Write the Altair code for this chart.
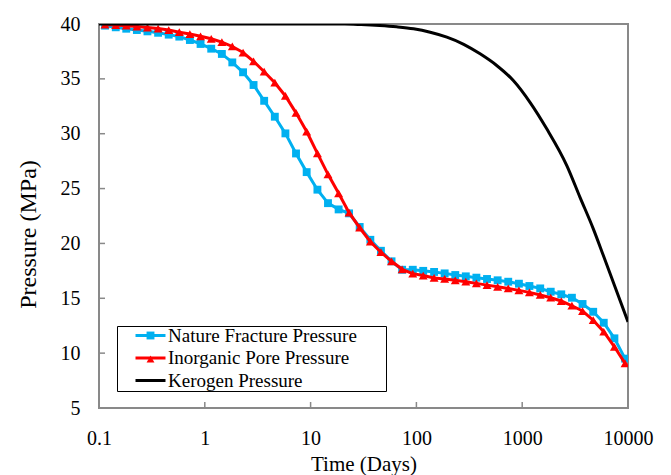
import altair as alt
import pandas as pd

# ---------------- data ----------------
SERIES = ["Nature Fracture Pressure", "Inorganic Pore Pressure", "Kerogen Pressure"]
COLORS = ["#00B0F0", "#FF0000", "#000000"]

times = [0.114, 0.144, 0.181, 0.228, 0.287, 0.362, 0.456, 0.574, 0.723, 0.912,
         1.15, 1.45, 1.82, 2.30, 2.89, 3.64, 4.59, 5.78, 7.28, 9.18,
         11.6, 14.6, 18.4, 23.1, 29.1, 36.7, 46.2, 58.2, 73.3, 92.4,
         116, 147, 185, 233, 293, 369, 465, 586, 738, 931,
         1170, 1480, 1860, 2340, 2950, 3720, 4690, 5900, 7440, 9380]

fracture = [39.85, 39.7, 39.57, 39.45, 39.33, 39.2, 39.03, 38.85, 38.54, 38.18,
            37.75, 37.27, 36.5, 35.6, 34.44, 33.0, 31.55, 30.03, 28.2, 26.5,
            24.9, 23.67, 23.1, 22.74, 21.5, 20.33, 19.33, 18.37, 17.6, 17.6,
            17.5, 17.4, 17.27, 17.12, 17.0, 16.88, 16.76, 16.64, 16.51, 16.33,
            16.12, 15.9, 15.6, 15.36, 15.05, 14.48, 13.77, 12.77, 11.35, 9.5]

inorganic = [39.95, 39.9, 39.85, 39.77, 39.68, 39.58, 39.45, 39.25, 39.08, 38.88,
             38.65, 38.35, 37.95, 37.4, 36.6, 35.65, 34.65, 33.44, 31.9, 30.2,
             28.2, 26.3, 24.57, 22.8, 21.43, 20.16, 19.2, 18.37, 17.64, 17.25,
             17.07, 16.85, 16.76, 16.64, 16.51, 16.36, 16.2, 16.05, 15.9, 15.72,
             15.54, 15.3, 15.05, 14.75, 14.32, 13.84, 13.0, 11.95, 10.58, 9.07]

kerogen_times = [0.1, 1, 10, 21, 30, 45, 65, 94, 135, 194, 280, 400, 574, 824,
                 1190, 1700, 2640, 3520, 4700, 5850, 7500, 10000]
kerogen = [40.0, 40.0, 40.0, 40.0, 39.95, 39.86, 39.74, 39.56, 39.25, 38.8, 38.15,
           37.28, 36.22, 34.85, 32.84, 30.47, 27.1, 24.2, 21.33, 18.9, 16.1, 12.85]

x_ticks = [0.1, 1, 10, 100, 1000, 10000]
x_inner_ticks = [1, 10, 100, 1000]
y_ticks = [5, 10, 15, 20, 25, 30, 35, 40]
y_inner_ticks = [10, 15, 20, 25, 30, 35]

df_frac = pd.DataFrame({"time": times, "pressure": fracture, "series": SERIES[0]})
df_inorg = pd.DataFrame({"time": times, "pressure": inorganic, "series": SERIES[1]})
df_ker = pd.DataFrame({"time": kerogen_times, "pressure": kerogen, "series": SERIES[2]})
df_xt = pd.DataFrame({"time": x_inner_ticks})
df_yt = pd.DataFrame({"pressure": y_inner_ticks})

# ---------------- layout ----------------
W, H = 529, 384
FONT = "Liberation Serif"
GRAY = "#898989"
NB = "\u00a0"

x_axis = alt.Axis(values=x_ticks, format="~g", labelFontSize=20, labelPadding=20,
                  labelFlush=False, labelOverlap=False,
                  titleFontSize=21, titleY=56, titleBaseline="middle")
y_axis = alt.Axis(values=y_ticks, labelFontSize=20, labelPadding=19,
                  labelFlush=False, labelOverlap=False,
                  titleFontSize=24, titleX=-71, titleY=210, titleAngle=270,
                  titleAlign="center", titleBaseline="middle")

X = alt.X("time:Q", scale=alt.Scale(type="log", domain=[0.1, 10000]),
          axis=x_axis, title="Time (Days)")
Y = alt.Y("pressure:Q", scale=alt.Scale(domain=[5, 40]),
          axis=y_axis, title="Pressure (MPa)")

LEG_X, LEG_Y = 18, 302
SYM_OFF = 24
common_leg = dict(orient="none", legendX=LEG_X, legendY=LEG_Y, direction="vertical",
                  padding=0, title=None, symbolOffset=SYM_OFF,
                  labelFontSize=19, labelLimit=500)

line_legend = alt.Legend(
    strokeColor="black", rowPadding=2.5,
    symbolType="M-3,0H3", symbolSize=100, symbolStrokeWidth=3,
    labelColor="black", labelOffset=8,
    labelExpr="datum.label + '" + NB * 6 + "\u200b'",
    **common_leg,
)
marker_legend = alt.Legend(
    rowPadding=3.5, labelOffset=8,
    symbolSize=62, symbolStrokeWidth=0, labelExpr="''",
    **common_leg,
)

color = alt.Color("series:N", scale=alt.Scale(domain=SERIES, range=COLORS),
                  legend=line_legend)
fill = alt.Fill("series:N", scale=alt.Scale(domain=SERIES[:2], range=COLORS[:2]),
                legend=marker_legend)
shape = alt.Shape("series:N",
                  scale=alt.Scale(domain=SERIES[:2], range=["square", "triangle-up"]),
                  legend=marker_legend)


def line(df, interp="linear"):
    return alt.Chart(df).mark_line(strokeWidth=3, clip=True, interpolate=interp).encode(
        x=X, y=Y, color=color)


def points(df, size):
    return alt.Chart(df).mark_point(filled=True, size=size, opacity=1,
                                    strokeWidth=0, clip=True).encode(
        x=X, y=Y, fill=fill, shape=shape)


x_tick_rules = alt.Chart(df_xt).mark_rule(color=GRAY, strokeWidth=1.5).encode(
    x=X, y=alt.value(H), y2=alt.value(H - 6))
y_tick_rules = alt.Chart(df_yt).mark_rule(color=GRAY, strokeWidth=1.5).encode(
    y=Y, x=alt.value(0), x2=alt.value(6))

chart = alt.layer(
    x_tick_rules, y_tick_rules,
    line(df_frac), points(df_frac, 62),
    line(df_inorg), points(df_inorg, 80),
    line(df_ker, "monotone"),
).properties(
    width=W, height=H,
    padding={"left": 99, "top": 24, "right": 671 - 99 - W, "bottom": 475 - 24 - H},
    autosize=alt.AutoSizeParams(type="none"),
    background="white",
).configure_axis(
    labelFont=FONT, titleFont=FONT, labelColor="black", titleColor="black",
    titleFontWeight="normal", grid=False, domain=False, ticks=False, tickSize=0,
).configure_legend(
    labelFont=FONT, titleFont=FONT,
).configure_view(
    stroke=GRAY, strokeWidth=2,
)

chart.save("out.html", embed_options={"renderer": "svg", "actions": False})
